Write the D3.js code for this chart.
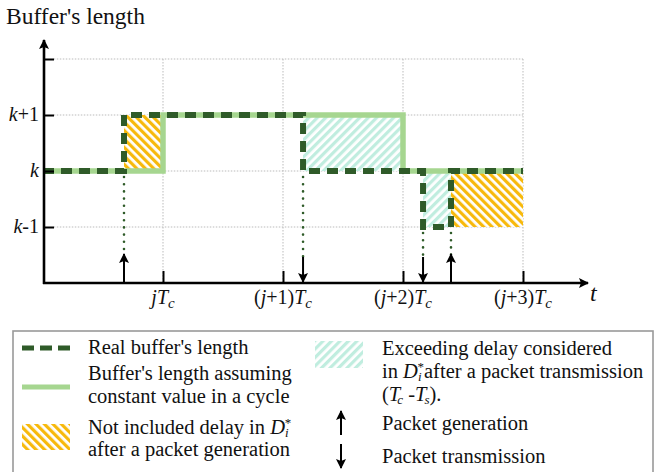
<!DOCTYPE html>
<html><head><meta charset="utf-8">
<script src="https://cdn.jsdelivr.net/npm/d3@7"></script>
<style>body{margin:0;background:#fff}svg{display:block}</style>
</head><body>
<script>
// ---- data (time in units of Tc, buffer level relative to k) ----
const yTickValues = [-1, 0, 1, 2];
const yTickLabels = ["k-1", "k", "k+1", ""];
const xTickValues = [0, 1, 2, 3];
const xTickPrefix = ["j", "(j+1)", "(j+2)", "(j+3)"];
const realT = [-1, -0.325, -0.325, 1.167, 1.167, 2.167, 2.167, 2.4, 2.4, 3];
const realV = [0, 0, 1, 1, 0, 0, -1, -1, 0, 0];
const constT = [-1, 0, 0, 2, 2, 3];
const constV = [0, 0, 1, 1, 0, 0];
const generationT = [-0.325, 2.4];
const transmissionT = [1.167, 2.167];
const generationLevel = [0, -1];
const transmissionLevel = [0, -1];
const yellowT0 = [-0.325, 2.4], yellowT1 = [0, 3], yellowV0 = [0, -1], yellowV1 = [1, 0];
const tealT0 = [1.167, 2.167], tealT1 = [2, 2.4], tealV0 = [0, -1], tealV1 = [1, 0];

const W = 661, H = 472;
const FONT = "'Liberation Serif', 'DejaVu Serif', 'Noto Serif', 'Times New Roman', Times, serif";
const DARK = "#2f5b29", LIGHT = "#a6d690", YEL = "#f7b90c", TEAL = "#c0eddf";
const svg = d3.select("body").append("svg").attr("width", W).attr("height", H)
  .style("font-family", FONT).attr("font-family", FONT);
const x = d3.scaleLinear().domain([-1, 3]).range([43, 523]);
const y = d3.scaleLinear().domain([-2, 2]).range([283, 59]);

const defs = svg.append("defs");
function hatch(id, color, angle) {
  const p = defs.append("pattern").attr("id", id).attr("patternUnits", "userSpaceOnUse")
    .attr("width", 6).attr("height", 6).attr("patternTransform", `rotate(${angle})`);
  p.append("rect").attr("width", 6).attr("height", 6).attr("fill", "#fff");
  p.append("rect").attr("width", 3.2).attr("height", 6).attr("fill", color);
}
hatch("hy", YEL, -45);
hatch("ht", TEAL, 45);
defs.append("marker").attr("id", "ah").attr("viewBox", "0 0 10 10").attr("refX", 9).attr("refY", 5)
  .attr("markerWidth", 10).attr("markerHeight", 10).attr("markerUnits", "userSpaceOnUse").attr("orient", "auto")
  .append("path").attr("d", "M0,0 L10,5 L0,10 L2,5 Z").attr("fill", "#000");

// grid
const g = svg.append("g");
g.selectAll(".gh").data(yTickValues).join("line")
  .attr("x1", x(-0.91)).attr("x2", x(3)).attr("y1", d => y(d)).attr("y2", d => y(d))
  .attr("stroke", "#bbb").attr("stroke-width", 1).attr("stroke-dasharray", "1.5 1.5");
g.selectAll(".gv").data(xTickValues).join("line")
  .attr("x1", d => x(d)).attr("x2", d => x(d)).attr("y1", y(2)).attr("y2", y(-2))
  .attr("stroke", "#bbb").attr("stroke-width", 1).attr("stroke-dasharray", "1.5 1.5");

// hatched regions
yellowT0.forEach((t, i) => svg.append("rect").attr("x", x(t)).attr("width", x(yellowT1[i]) - x(t))
  .attr("y", y(yellowV1[i])).attr("height", y(yellowV0[i]) - y(yellowV1[i])).attr("fill", "url(#hy)"));
tealT0.forEach((t, i) => svg.append("rect").attr("x", x(t)).attr("width", x(tealT1[i]) - x(t))
  .attr("y", y(tealV1[i])).attr("height", y(tealV0[i]) - y(tealV1[i])).attr("fill", "url(#ht)"));

// lines
const line = d3.line().x(d => x(d[0])).y(d => y(d[1]));
svg.append("path").attr("d", line(constT.map((t, i) => [t, constV[i]])))
  .attr("fill", "none").attr("stroke", LIGHT).attr("stroke-width", 5.5);
svg.append("path").attr("d", line(realT.map((t, i) => [t, realV[i]])))
  .attr("fill", "none").attr("stroke", DARK).attr("stroke-width", 6).attr("stroke-dasharray", "11 7");

// event arrows
generationT.forEach((t, i) => {
  svg.append("line").attr("x1", x(t)).attr("x2", x(t)).attr("y1", y(generationLevel[i]) + 6).attr("y2", 256)
    .attr("stroke", DARK).attr("stroke-width", 2.6).attr("stroke-linecap", "round").attr("stroke-dasharray", "0 7.2");
  svg.append("line").attr("x1", x(t)).attr("x2", x(t)).attr("y1", y(-2)).attr("y2", 254)
    .attr("stroke", "#000").attr("stroke-width", 2).attr("marker-end", "url(#ah)");
});
transmissionT.forEach((t, i) => {
  svg.append("line").attr("x1", x(t)).attr("x2", x(t)).attr("y1", y(transmissionLevel[i]) + 6).attr("y2", 258)
    .attr("stroke", DARK).attr("stroke-width", 2.6).attr("stroke-linecap", "round").attr("stroke-dasharray", "0 7.2");
  svg.append("line").attr("x1", x(t)).attr("x2", x(t)).attr("y1", 257).attr("y2", y(-2) - 1)
    .attr("stroke", "#000").attr("stroke-width", 2).attr("marker-end", "url(#ah)");
});

// axes
const xAxis = d3.axisBottom(x).tickValues(xTickValues).tickSize(-12).tickFormat("");
const xa = svg.append("g").attr("transform", `translate(0,${y(-2)})`).call(xAxis);
xa.select(".domain").remove();
xa.selectAll(".tick line").attr("stroke", "#000").attr("stroke-width", 2);
const yAxis = d3.axisLeft(y).tickValues(yTickValues).tickSize(-10).tickFormat("");
const ya = svg.append("g").attr("transform", `translate(${x(-1) + 1},0)`).call(yAxis);
ya.select(".domain").remove();
ya.selectAll(".tick line").attr("stroke", "#000").attr("stroke-width", 2);
svg.append("line").attr("x1", x(-1) + 1).attr("x2", x(-1) + 1).attr("y1", y(-2) + 1).attr("y2", 40)
  .attr("stroke", "#000").attr("stroke-width", 2.6).attr("marker-end", "url(#ah)");
svg.append("line").attr("x1", x(-1)).attr("x2", 588).attr("y1", y(-2)).attr("y2", y(-2))
  .attr("stroke", "#000").attr("stroke-width", 2.6).attr("marker-end", "url(#ah)");

function txt(parent, xx, yy, size) {
  return parent.append("text").attr("x", xx).attr("y", yy).attr("font-size", size)
    .attr("font-family", FONT).attr("fill", "#111");
}
// y labels
yTickValues.forEach((v, i) => {
  const lab = yTickLabels[i];
  if (!lab) return;
  const t = txt(svg, 39, y(v) + 6, 20).attr("text-anchor", "end");
  t.append("tspan").attr("font-style", "italic").text("k");
  if (lab.length > 1) t.append("tspan").text(lab.slice(1));
});
// x labels
xTickValues.forEach((v, i) => {
  const t = txt(svg, x(v), 304, 20).attr("text-anchor", "middle");
  const p = xTickPrefix[i];
  if (p === "j") t.append("tspan").attr("font-style", "italic").text("j");
  else {
    t.append("tspan").text("(");
    t.append("tspan").attr("font-style", "italic").text("j");
    t.append("tspan").text(p.slice(2));
  }
  t.append("tspan").attr("font-style", "italic").text("T");
  t.append("tspan").attr("font-style", "italic").attr("font-size", 15).attr("dy", 4).text("c");
});
txt(svg, 590, 301, 24).attr("font-style", "italic").text("t");
txt(svg, 6, 24, 23.5).text("Buffer's length");

// legend
const lg = svg.append("g");
lg.append("rect").attr("x", 13).attr("y", 331).attr("width", 640).attr("height", 160)
  .attr("fill", "none").attr("stroke", "#999").attr("stroke-width", 1.6);
lg.append("line").attr("x1", 22).attr("x2", 70).attr("y1", 348).attr("y2", 348)
  .attr("stroke", DARK).attr("stroke-width", 5).attr("stroke-dasharray", "12 6");
lg.append("line").attr("x1", 22).attr("x2", 70).attr("y1", 387).attr("y2", 387)
  .attr("stroke", LIGHT).attr("stroke-width", 5);
lg.append("rect").attr("x", 22).attr("y", 424).attr("width", 48).attr("height", 26).attr("fill", "url(#hy)");
lg.append("rect").attr("x", 315).attr("y", 341).attr("width", 48).attr("height", 27).attr("fill", "url(#ht)");
lg.append("line").attr("x1", 341).attr("x2", 341).attr("y1", 435).attr("y2", 411)
  .attr("stroke", "#000").attr("stroke-width", 2).attr("marker-end", "url(#ah)");
lg.append("line").attr("x1", 341).attr("x2", 341).attr("y1", 444).attr("y2", 468)
  .attr("stroke", "#000").attr("stroke-width", 2).attr("marker-end", "url(#ah)");

function ltext(xx, yy, s) { return txt(lg, xx, yy, 20.5).text(s); }
function dstar(t) {
  t.append("tspan").attr("font-style", "italic").text("D");
  t.append("tspan").attr("font-style", "italic").attr("font-size", 13).attr("dy", 3).text("i");
  t.append("tspan").attr("font-size", 13).attr("dx", -4).attr("dy", -10).text("*");
}
ltext(88, 354, "Real buffer's length");
ltext(88, 380, "Buffer's length assuming");
ltext(88, 403, "constant value in a cycle");
const n1 = ltext(88, 434, "Not included delay in ");
dstar(n1);
ltext(88, 456, "after a packet generation");
ltext(382, 355, "Exceeding delay considered");
const e2 = ltext(382, 378, "in ");
dstar(e2);
e2.append("tspan").attr("dy", 7).text("after a packet transmission");
const e3 = txt(lg, 382, 401, 20.5);
e3.append("tspan").text("(");
e3.append("tspan").attr("font-style", "italic").text("T");
e3.append("tspan").attr("font-style", "italic").attr("font-size", 13).attr("dx", -3).attr("dy", 3).text("c");
e3.append("tspan").attr("dy", -3).text(" -");
e3.append("tspan").attr("font-style", "italic").text("T");
e3.append("tspan").attr("font-style", "italic").attr("font-size", 13).attr("dx", -2).attr("dy", 3).text("s");
e3.append("tspan").attr("dy", -3).text(").");
ltext(382, 430, "Packet generation");
ltext(382, 463, "Packet transmission");
</script>
</body></html>
